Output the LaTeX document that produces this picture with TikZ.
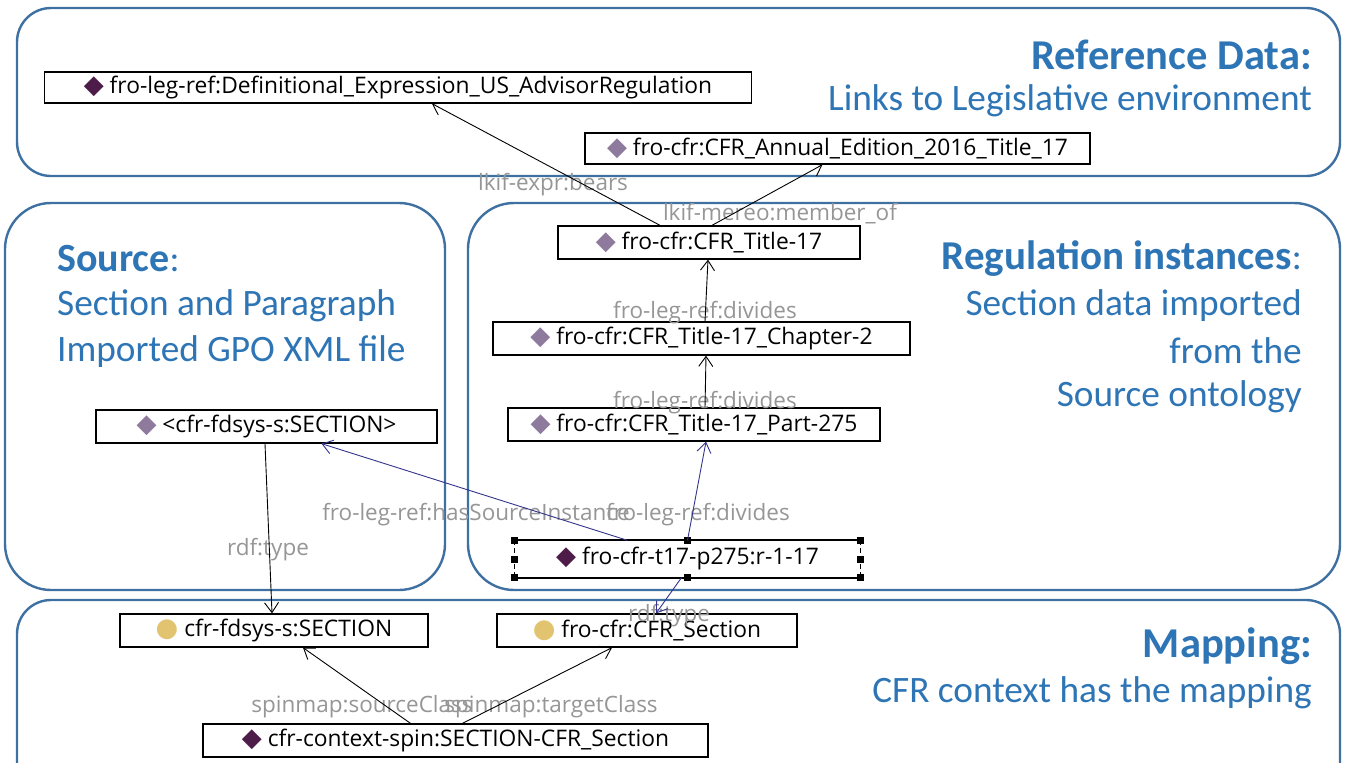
\documentclass[tikz,border=0pt]{standalone}
\usepackage{fontspec}
\setmainfont{Carlito}
\newfontfamily\nodefont{Open Sans}
\newfontfamily\symfont{DejaVu Sans}
\usetikzlibrary{arrows.meta,calc}
\definecolor{blu}{RGB}{46,117,182}
\definecolor{framec}{RGB}{62,112,162}
\definecolor{dkpur}{RGB}{78,28,72}
\definecolor{ltpur}{RGB}{142,122,156}
\definecolor{ylw}{RGB}{226,196,112}
\definecolor{navyc}{RGB}{52,52,140}
\definecolor{lblc}{RGB}{150,150,150}
\newcommand\dkd{{\symfont\fontsize{26}{26}\selectfont\textcolor{dkpur}{◆}}\ }
\newcommand\ltd{{\symfont\fontsize{26}{26}\selectfont\textcolor{ltpur}{◆}}\ }
\newcommand\ylc{{\symfont\fontsize{26}{26}\selectfont\textcolor{ylw}{●}}\ }
\begin{document}
\begin{tikzpicture}[x=1pt,y=-1pt,
  region/.style={draw=framec, line width=2.4pt, rounded corners=34pt},
  ent/.style={draw=black, fill=white, line width=1.3pt, inner sep=0pt,
    font=\nodefont\fontsize{22.8}{26}\selectfont},
  lbl/.style={text=lblc, inner sep=0pt, font=\nodefont\fontsize{22.5}{26}\selectfont},
  arr/.style={-{Straight Barb[length=10pt,width=14pt]}, line width=0.9pt},
  navy/.style={arr, draw=navyc},
  ttl/.style={text=blu, inner sep=0pt, font=\fontsize{42.5}{46}\selectfont\bfseries},
  sub/.style={text=blu, inner sep=0pt, font=\fontsize{37.3}{42}\selectfont},
  handle/.style={fill=black, minimum size=7pt, inner sep=0pt}
]
\useasboundingbox (0,0) rectangle (1352,763);
\fill[white] (0,0) rectangle (1352,763);

% regions
\draw[region] (17,8) rectangle (1340,176);
\draw[region, rounded corners=46pt] (5,203) rectangle (445,590);
\draw[region, rounded corners=46pt] (468,203) rectangle (1340,590);
\draw[region] (17,600) rectangle (1340,800);

% titles
\node[ttl, anchor=east] (refT) at (1312,55) {Reference Data:};
\node[sub, anchor=east] (refS) at (1312,101) {Links to Legislative environment};
\node[sub, anchor=west] (srcT) at (57,259) {\textbf{\fontsize{40}{44}\selectfont Source}:};
\node[sub, anchor=west] (srcS1) at (57,306) {Section and Paragraph};
\node[sub, anchor=west] (srcS2) at (57,352) {Imported GPO XML file};
\node[sub, anchor=east] (regT) at (1302,259) {\textbf{\fontsize{41}{44}\selectfont Regulation instances}:};
\node[sub, anchor=east] (regS1) at (1302,306) {Section data imported};
\node[sub, anchor=east] (regS2) at (1302,351) {from the};
\node[sub, anchor=east] (regS3) at (1302,397) {Source ontology};
\node[ttl, anchor=east] (mapT) at (1312,646) {Mapping:};
\node[sub, anchor=east] (mapS) at (1312,693) {CFR context has the mapping};

% entity nodes
\node[ent, minimum width=707pt, minimum height=31pt] (defx) at (398,87.5) {\dkd fro-leg-ref:Definitional\_Expression\_US\_AdvisorRegulation};
\node[ent, minimum width=505pt, minimum height=31pt] (annual) at (837.5,148.5) {\ltd fro-cfr:CFR\_Annual\_Edition\_2016\_Title\_17};
\node[ent, minimum width=302pt, minimum height=33pt] (t17) at (709,242.5) {\ltd fro-cfr:CFR\_Title-17};
\node[ent, minimum width=417pt, minimum height=33pt] (ch2) at (701.5,338.5) {\ltd fro-cfr:CFR\_Title-17\_Chapter-2};
\node[ent, minimum width=372pt, minimum height=33pt] (p275) at (694,424.5) {\ltd fro-cfr:CFR\_Title-17\_Part-275};
\node[ent, draw=none, minimum width=345pt, minimum height=36pt] (r117) at (687.5,559) {\dkd fro-cfr-t17-p275:r-1-17};
\node[ent, minimum width=341pt, minimum height=33pt] (secI) at (266.5,426.5) {\ltd <cfr-fdsys-s:SECTION>};
\node[ent, minimum width=308pt, minimum height=33pt] (secC) at (274,630.5) {\ylc cfr-fdsys-s:SECTION};
\node[ent, minimum width=300pt, minimum height=33pt] (cfrS) at (647,630.5) {\ylc fro-cfr:CFR\_Section};
\node[ent, minimum width=505pt, minimum height=33pt] (spin) at (455.5,740.5) {\dkd cfr-context-spin:SECTION-CFR\_Section};

% selection frame of r117
\draw[line width=2.2pt] (r117.north west) -- (r117.north east);
\draw[line width=2.2pt] (r117.south west) -- (r117.south east);
\draw[line width=1.6pt, dash pattern=on 5pt off 3pt] (r117.north west) -- (r117.south west);
\draw[line width=1.6pt, dash pattern=on 5pt off 3pt] (r117.north east) -- (r117.south east);
\foreach \a in {north west,north,north east,east,south east,south,south west,west}
  \node[handle] at (r117.\a) {};

% edge labels
\node[lbl] (l1) at (553,185) {lkif-expr:bears};
\node[lbl] (l2) at (780,214) {lkif-mereo:member\_of};
\node[lbl] (l3) at (705,313) {fro-leg-ref:divides};
\node[lbl] (l4) at (705,403) {fro-leg-ref:divides};
\node[lbl] (l5) at (698,515) {fro-leg-ref:divides};
\node[lbl] (l6) at (476,515) {fro-leg-ref:hasSourceInstance};
\node[lbl] (l7) at (268,550) {rdf:type};
\node[lbl] (l8) at (669,616) {rdf:type};
\node[lbl] (l9) at (362,707) {spinmap:sourceClass};
\node[lbl] (l10) at (551,707) {spinmap:targetClass};

% edges
\draw[arr] ([xshift=-49pt]t17.north) -- ([xshift=34pt]defx.south);
\draw[arr] ([xshift=3pt]t17.north) -- ([xshift=-15pt]annual.south);
\draw[arr] ([xshift=3.5pt]ch2.north) -- ([xshift=-1pt]t17.south);
\draw[arr] ([xshift=11pt]p275.north) -- ([xshift=4.5pt]ch2.south);
\draw[navy] (r117.north) -- ([xshift=12pt]p275.south);
\draw[navy] ([xshift=-60pt]r117.north) -- ([xshift=55pt]secI.south);
\draw[navy] ([xshift=-6pt]r117.south) -- ([xshift=9pt]cfrS.north);
\draw[arr] ([xshift=-1.5pt]secI.south) -- ([xshift=-2pt]secC.north);
\draw[arr] ([xshift=-45pt]spin.north) -- ([xshift=29pt]secC.south);
\draw[arr] ([xshift=7pt]spin.north) -- ([xshift=-35pt]cfrS.south);
\end{tikzpicture}
\end{document}
